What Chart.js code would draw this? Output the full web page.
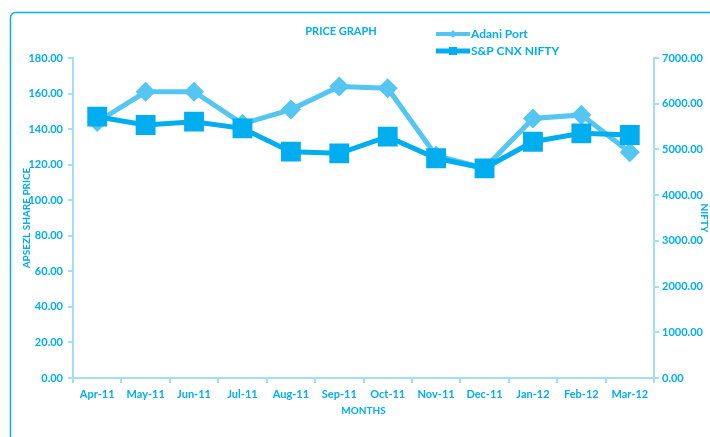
<!DOCTYPE html>
<html lang="en">
<head>
  <meta charset="UTF-8">
  <title>Price Graph</title>
  <script src="https://cdn.jsdelivr.net/npm/chart.js"></script>
  <style>
    html, body { margin: 0; padding: 0; background: #fff; }
    #wrap { width: 710px; height: 437px; position: relative; }
  </style>
</head>
<body>
  <div id="wrap"><canvas id="grafico" width="710" height="437"></canvas></div>
  <script>
    const meses = ['Apr-11', 'May-11', 'Jun-11', 'Jul-11', 'Aug-11', 'Sep-11',
                   'Oct-11', 'Nov-11', 'Dec-11', 'Jan-12', 'Feb-12', 'Mar-12'];
    const adaniPort = [144, 161, 161, 143, 151, 164, 163, 125, 118, 146, 148, 127];
    const nifty = [5716, 5534, 5607, 5462, 4951, 4915, 5279, 4806, 4587, 5169, 5352, 5316];
    const ticksEsquerda = [0, 20, 40, 60, 80, 100, 120, 140, 160, 180];
    const ticksDireita = [0, 1000, 2000, 3000, 4000, 5000, 6000, 7000];

    const azulTexto = '#00aeef';
    const azulAdani = '#55c6f1';
    const azulNifty = '#00aeef';
    const azulEixo = '#a3ddf6';
    const fonte = 'Lato';

    // moldura, titulo e legenda desenhados a mao
    const extras = {
      id: 'extras',
      beforeDraw(chart) {
        const ctx = chart.ctx;
        ctx.save();
        ctx.strokeStyle = azulTexto;
        ctx.lineWidth = 1.5;
        ctx.beginPath();
        ctx.roundRect(10.5, 12.5, 760, 480, 5);
        ctx.stroke();
        ctx.restore();
      },
      afterDraw(chart) {
        const ctx = chart.ctx;
        ctx.save();
        ctx.fillStyle = azulTexto;
        ctx.font = 'bold 11px ' + fonte;
        ctx.textAlign = 'center';
        ctx.textBaseline = 'middle';
        ctx.fillText('PRICE GRAPH', 341, 31);

        const itens = [
          { nome: 'Adani Port', cor: azulAdani, y: 34, tipo: 'diamante', larg: 4 },
          { nome: 'S&P CNX NIFTY', cor: azulNifty, y: 51, tipo: 'quadrado', larg: 5 }
        ];
        itens.forEach(it => {
          ctx.strokeStyle = it.cor;
          ctx.fillStyle = it.cor;
          ctx.lineWidth = it.larg;
          ctx.beginPath();
          ctx.moveTo(436, it.y);
          ctx.lineTo(470, it.y);
          ctx.stroke();
          ctx.beginPath();
          if (it.tipo === 'diamante') {
            ctx.moveTo(453, it.y - 4); ctx.lineTo(457, it.y);
            ctx.lineTo(453, it.y + 4); ctx.lineTo(449, it.y);
          } else {
            ctx.rect(449, it.y - 4, 8, 8);
          }
          ctx.closePath();
          ctx.fill();
          ctx.fillStyle = azulTexto;
          ctx.font = 'bold 12px ' + fonte;
          ctx.textAlign = 'left';
          ctx.fillText(it.nome, 471, it.y);
        });
        ctx.restore();
      }
    };

    new Chart(document.getElementById('grafico'), {
      type: 'line',
      data: {
        labels: meses,
        datasets: [{
          label: 'Adani Port',
          data: adaniPort,
          yAxisID: 'y',
          order: 2,
          borderColor: azulAdani,
          backgroundColor: azulAdani,
          borderWidth: 5,
          pointStyle: 'rectRot',
          pointRadius: 6.5,
          pointHoverRadius: 6.5,
          tension: 0
        }, {
          label: 'S&P CNX NIFTY',
          data: nifty,
          yAxisID: 'y1',
          order: 1,
          borderColor: azulNifty,
          backgroundColor: azulNifty,
          borderWidth: 5,
          pointStyle: 'rect',
          pointRadius: 10.5,
          pointHoverRadius: 10.5,
          tension: 0
        }]
      },
      options: {
        responsive: false,
        animation: false,
        layout: { padding: { top: 58, left: 18, right: 0, bottom: 20 } },
        plugins: { legend: { display: false }, tooltip: { enabled: false } },
        scales: {
          x: {
            offset: true,
            grid: { offset: true, drawOnChartArea: false, color: azulEixo, lineWidth: 2, tickLength: 5 },
            border: { color: azulEixo, width: 2 },
            ticks: { color: azulTexto, font: { family: fonte, size: 11, weight: 'bold' }, padding: 5, maxRotation: 0 },
            title: { display: true, text: 'MONTHS', color: azulTexto, font: { family: fonte, size: 10, weight: 'bold' }, padding: 0 },
            afterFit(s) { s.height = 39; }
          },
          y: {
            position: 'left',
            min: 0, max: 180,
            afterBuildTicks(s) { s.ticks = ticksEsquerda.map(v => ({ value: v })); },
            grid: { drawOnChartArea: false, color: azulEixo, lineWidth: 2, tickLength: 5 },
            border: { color: azulEixo, width: 2 },
            ticks: { color: azulTexto, font: { family: fonte, size: 11, weight: 'bold' }, padding: 5,
                     callback: v => v.toFixed(2) },
            title: { display: true, text: 'APSEZL SHARE PRICE', color: azulTexto, font: { family: fonte, size: 10, weight: 'bold' }, padding: { top: 3, bottom: 0 } },
            afterFit(s) { s.width = 55; }
          },
          y1: {
            position: 'right',
            min: 0, max: 7000,
            afterBuildTicks(s) { s.ticks = ticksDireita.map(v => ({ value: v })); },
            grid: { drawOnChartArea: false, color: azulEixo, lineWidth: 2, tickLength: 5 },
            border: { color: azulEixo, width: 2 },
            ticks: { color: azulTexto, font: { family: fonte, size: 11, weight: 'bold' }, padding: 3,
                     callback: v => v.toFixed(2) },
            title: { display: true, text: 'NIFTY', color: azulTexto, font: { family: fonte, size: 10, weight: 'bold' }, padding: { top: 0, bottom: 0 } },
            afterFit(s) { s.width = 56; }
          }
        }
      },
      plugins: [extras]
    });
  </script>
</body>
</html>
